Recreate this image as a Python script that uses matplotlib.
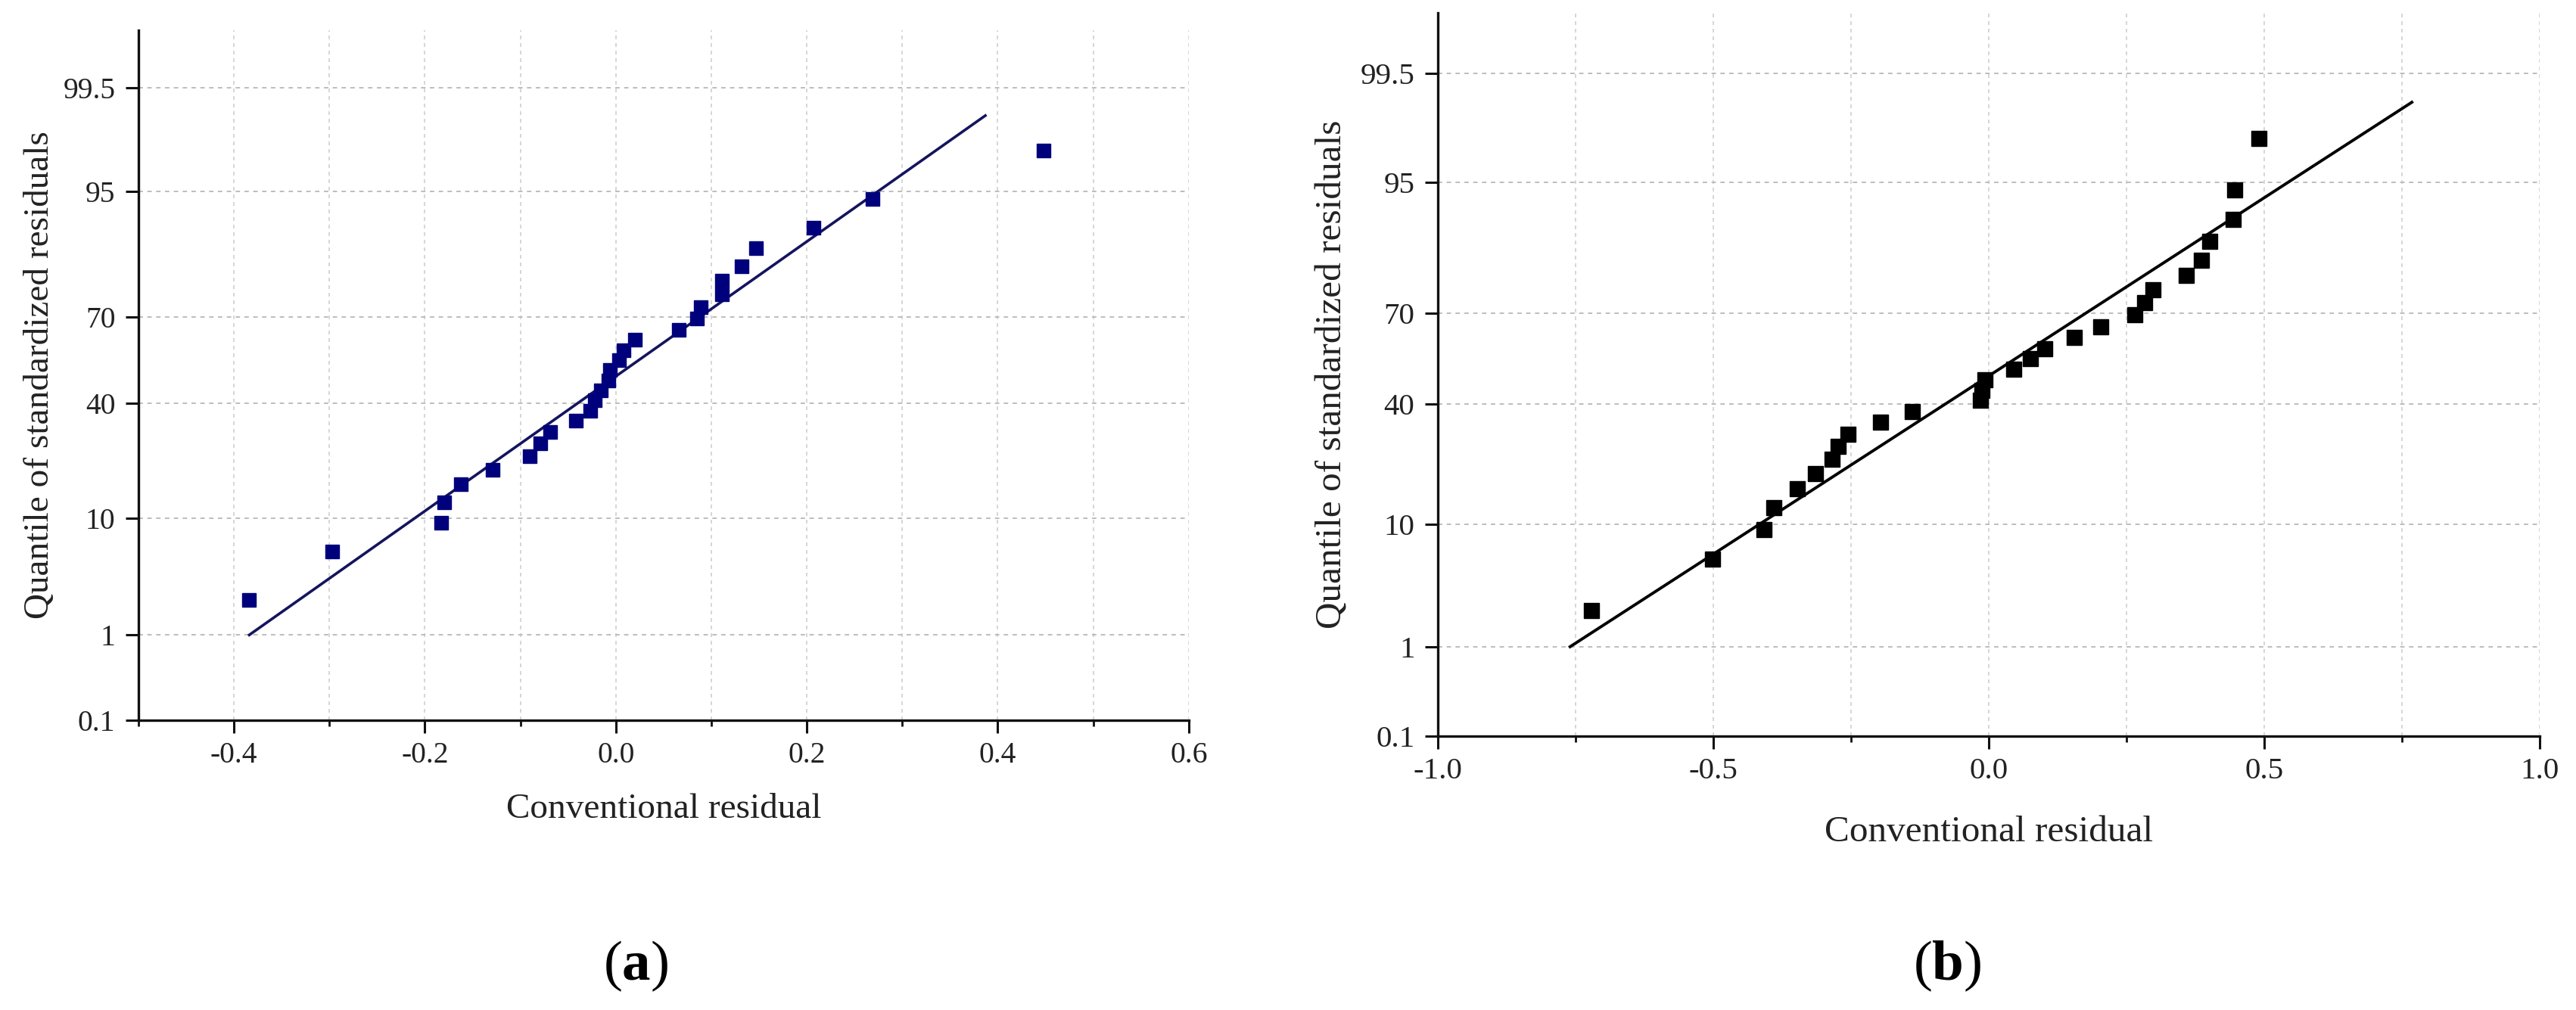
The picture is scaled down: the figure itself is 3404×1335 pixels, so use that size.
from statistics import NormalDist

import matplotlib
matplotlib.use("Agg")
import matplotlib.pyplot as plt
import numpy as np
from matplotlib.ticker import FixedLocator, FormatStrFormatter, MultipleLocator, NullLocator

plt.rcParams["font.family"] = ["Liberation Serif", "DejaVu Serif"]
plt.rcParams["mathtext.fontset"] = "custom"
plt.rcParams["mathtext.rm"] = "Liberation Serif"
plt.rcParams["mathtext.bf"] = "Liberation Serif:bold"

# quantile positions (%), 28 residuals each
quantile_pct = [2.2, 5.7, 9.3, 12.8, 16.4, 19.9, 23.5, 27.0, 30.5, 34.1,
                37.6, 41.2, 44.7, 48.2, 51.8, 55.3, 58.8, 62.4, 65.9, 69.5,
                73.0, 76.5, 80.1, 83.6, 87.2, 90.7, 94.3, 97.8]

# (a) conventional residuals
resid_a = [-0.384, -0.297, -0.183, -0.180, -0.162, -0.129, -0.090, -0.079,
           -0.069, -0.042, -0.027, -0.022, -0.016, -0.008, -0.006, 0.003,
           0.008, 0.020, 0.066, 0.085, 0.089, 0.111, 0.111, 0.132, 0.147,
           0.207, 0.269, 0.448]
fit_a_x = [-0.384, 0.387]
fit_a_pct = [1.0, 99.0]

# (b) conventional residuals
resid_b = [-0.721, -0.502, -0.408, -0.390, -0.347, -0.314, -0.285, -0.273,
           -0.256, -0.197, -0.139, -0.015, -0.013, -0.007, 0.045, 0.075,
           0.101, 0.155, 0.203, 0.265, 0.283, 0.298, 0.359, 0.386, 0.401,
           0.443, 0.446, 0.490]
fit_b_x = [-0.760, 0.768]
fit_b_pct = [1.0, 99.0]

y_ticks = [0.1, 1, 10, 40, 70, 95, 99.5]
y_tick_labels = ["0.1", "1", "10", "40", "70", "95", "99.5"]

_nd = NormalDist()
_ppf = np.vectorize(lambda p: _nd.inv_cdf(min(max(p / 100.0, 1e-9), 1 - 1e-9)), otypes=[float])
_cdf = np.vectorize(lambda z: 100.0 * _nd.cdf(z), otypes=[float])


def prob_forward(p):
    return _ppf(np.asarray(p, dtype=float))


def prob_inverse(z):
    return _cdf(np.asarray(z, dtype=float))


def style_axes(ax, xlim, major, minor, tick_fs, label_fs, xlab_y, ylab_x):
    ax.set_yscale("function", functions=(prob_forward, prob_inverse))
    ax.set_ylim(0.1, 99.9)
    ax.set_xlim(*xlim)
    ax.yaxis.set_major_locator(FixedLocator(y_ticks))
    ax.set_yticklabels(y_tick_labels)
    ax.yaxis.set_minor_locator(NullLocator())
    ax.xaxis.set_major_locator(MultipleLocator(major))
    ax.xaxis.set_minor_locator(MultipleLocator(minor))
    ax.xaxis.set_major_formatter(FormatStrFormatter("%.1f"))

    for side in ("top", "right"):
        ax.spines[side].set_visible(False)
    for side in ("left", "bottom"):
        ax.spines[side].set_linewidth(2.4)
        ax.spines[side].set_color("#111111")

    ax.tick_params(which="major", direction="out", length=12, width=2.2,
                   labelsize=tick_fs, color="#111111", labelcolor="#222222")
    ax.tick_params(axis="x", which="major", pad=8)
    ax.tick_params(axis="y", which="major", pad=10)
    ax.tick_params(which="minor", direction="out", length=6, width=2.0, color="#111111")

    ax.grid(True, axis="x", which="both", color="#cfcfcf", linestyle=(0, (3, 3)), linewidth=1.2)
    ax.grid(True, axis="y", which="major", color="#bdbdbd", linestyle=(0, (3, 3)), linewidth=1.4)
    ax.set_axisbelow(True)

    ax.set_xlabel("Conventional residual", fontsize=label_fs, color="#222222", va="center")
    ax.set_ylabel("Quantile of standardized residuals", fontsize=label_fs, color="#222222", va="center")
    ax.xaxis.set_label_coords(0.5, xlab_y)
    ax.yaxis.set_label_coords(ylab_x, 0.5)


fig = plt.figure(figsize=(34.04, 13.35), dpi=100)
ax_a = fig.add_axes([0.05376, 0.2869, 0.4077, 0.6831])
ax_b = fig.add_axes([0.55817, 0.27116, 0.42773, 0.71611])

navy = "#00007c"
ax_a.plot(fit_a_x, fit_a_pct, color="#14145e", linewidth=2.6, zorder=3)
ax_a.plot(resid_a, quantile_pct, linestyle="none", marker="s", markersize=12.5,
          color=navy, markeredgecolor=navy, zorder=4)
style_axes(ax_a, (-0.5, 0.6), 0.2, 0.1, 28.5, 34, -0.129, -0.094)

ax_b.plot(fit_b_x, fit_b_pct, color="black", linewidth=2.8, zorder=3)
ax_b.plot(resid_b, quantile_pct, linestyle="none", marker="s", markersize=14.5,
          color="black", zorder=4)
style_axes(ax_b, (-1.0, 1.0), 0.5, 0.25, 29.5, 35.5, -0.133, -0.096)

# panel tags: serif parentheses with a bold letter
for x, letter in ((0.2468, "a"), (0.7559, "b")):
    fig.text(x, 0.0435, "(" + r"$\mathbf{" + letter + "}$" + ")", fontsize=54,
             ha="center", va="center")

fig.savefig("out.png", dpi=100)
